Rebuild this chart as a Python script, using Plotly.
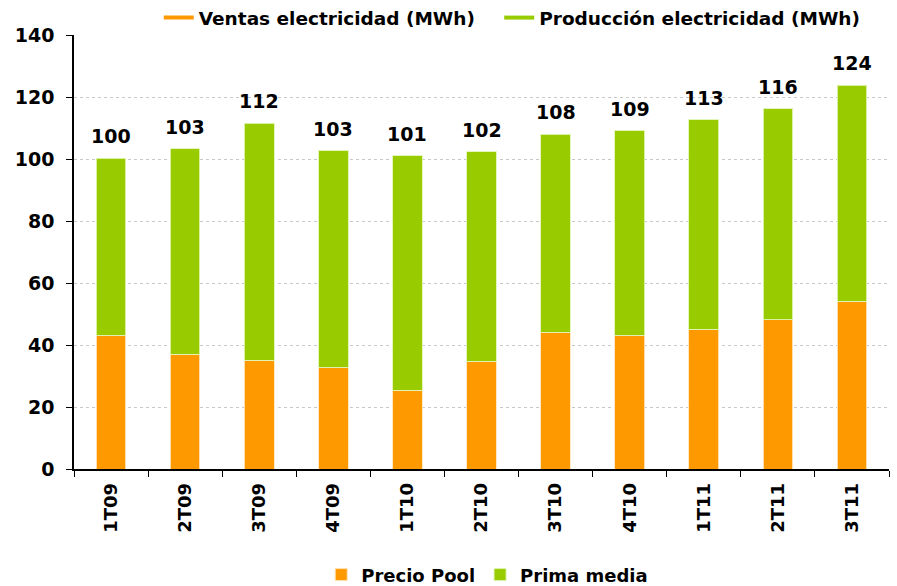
import plotly.graph_objects as go

categories = ["1T09", "2T09", "3T09", "4T09", "1T10", "2T10", "3T10", "4T10", "1T11", "2T11", "3T11"]
precio_pool = [43.1, 37.0, 35.1, 32.8, 25.4, 34.8, 44.1, 43.2, 45.1, 48.1, 54.1]
totales = [100.3, 103.3, 111.6, 102.7, 101.1, 102.4, 108.0, 109.1, 112.7, 116.2, 123.8]
etiquetas = ["100", "103", "112", "103", "101", "102", "108", "109", "113", "116", "124"]
prima_media = [round(t - p, 1) for t, p in zip(totales, precio_pool)]

ORANGE = "#FF9900"
GREEN = "#99CC00"
FONT = "DejaVu Sans"

fig = go.Figure()

fig.add_trace(go.Bar(
    x=categories, y=precio_pool, name="Precio Pool",
    marker=dict(color=ORANGE, line=dict(color="rgba(255,230,190,0.9)", width=1)),
    legend="legend2",
))
fig.add_trace(go.Bar(
    x=categories, y=prima_media, name="Prima media",
    marker=dict(color=GREEN, line=dict(color="rgba(225,245,180,0.9)", width=1)),
    legend="legend2",
))

# Line legend entries (top legend); trailing non-breaking spaces widen the gap
fig.add_trace(go.Scatter(
    x=[None], y=[None], mode="lines", name="Ventas electricidad (MWh)\u00a0\u00a0\u00a0",
    line=dict(color=ORANGE, width=4), legend="legend",
))
fig.add_trace(go.Scatter(
    x=[None], y=[None], mode="lines", name="Producción electricidad (MWh)",
    line=dict(color=GREEN, width=4), legend="legend",
))

for c, t, lab in zip(categories, totales, etiquetas):
    fig.add_annotation(
        x=c, y=t, text=lab, showarrow=False, yanchor="bottom", yshift=9,
        font=dict(family=FONT, size=19, color="black", weight="bold"),
    )

fig.update_layout(
    width=897, height=586,
    margin=dict(l=74, r=8, t=35, b=117, autoexpand=False),
    barmode="stack", bargap=0.6,
    plot_bgcolor="white", paper_bgcolor="white",
    font=dict(family=FONT, color="black"),
    legend=dict(
        orientation="h", x=0.104, xanchor="left", y=1.039, yanchor="middle",
        font=dict(family=FONT, size=18.5, color="black", weight="bold"),
        itemwidth=30, tracegroupgap=0, bgcolor="rgba(0,0,0,0)",
    ),
    legend2=dict(
        orientation="h", x=0.507, xanchor="center", y=-0.244, yanchor="middle",
        font=dict(family=FONT, size=18, color="black", weight="bold"),
        traceorder="normal", bgcolor="rgba(0,0,0,0)",
    ),
    showlegend=True,
)

fig.update_xaxes(
    type="category", tickson="boundaries", ticks="outside", ticklen=6,
    tickcolor="black", tickwidth=1,
    showline=True, linecolor="black", linewidth=1.5,
    showgrid=False, tickangle=-90,
    tickfont=dict(family=FONT, size=18, color="black", weight="bold"),
    ticklabelstandoff=5,
    range=[-0.5, len(categories) - 0.5],
)
fig.update_yaxes(
    range=[0, 140], dtick=20, ticks="outside", ticklen=6,
    tickcolor="black", tickwidth=1,
    showline=True, linecolor="black", linewidth=1.5,
    showgrid=True, gridcolor="#C8C8C8", griddash="dot", gridwidth=1,
    zeroline=False,
    tickfont=dict(family=FONT, size=19, color="black", weight="bold"),
    ticklabelstandoff=8,
)

fig.write_html(
    "out.html",
    config={"displayModeBar": False},
    post_script="document.body.style.margin='0';document.body.style.overflow='hidden';",
)
